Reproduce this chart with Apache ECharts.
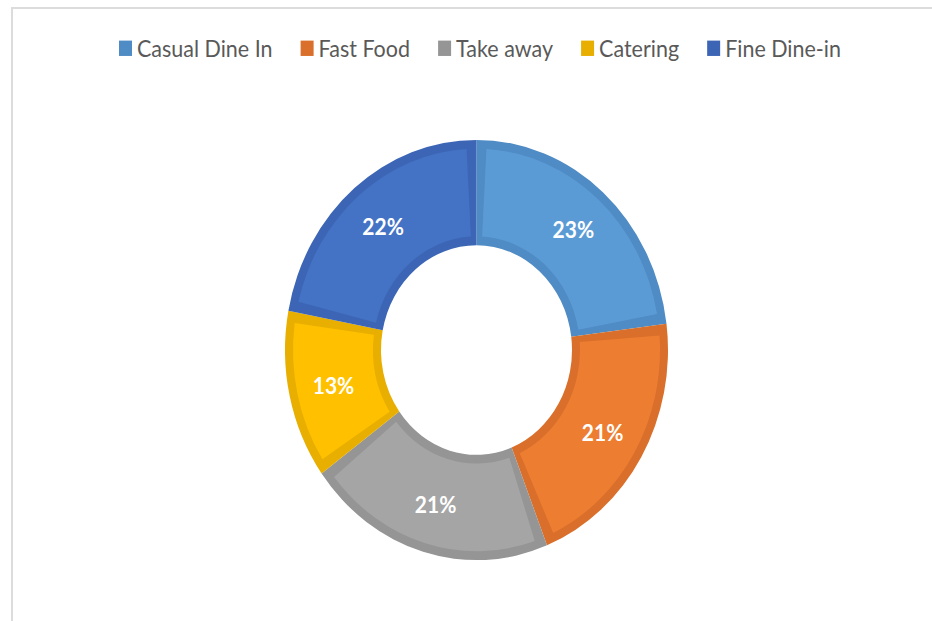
<!DOCTYPE html>
<html>
<head>
<meta charset="utf-8">
<title>Restaurant segments</title>
<script src="https://cdn.jsdelivr.net/npm/echarts@6/dist/echarts.min.js"></script>
<style>
  html, body { margin: 0; padding: 0; background: #ffffff; overflow: hidden; }
  #frame {
    position: absolute; left: 11px; top: 7px; width: 940px; height: 640px;
    border-left: 2px solid #dcdcdc; border-top: 2px solid #dcdcdc;
  }
  #chart {
    position: absolute; left: 0; top: 0; width: 932px; height: 566px;
    transform: scaleY(1.0972); transform-origin: 0 0;
  }
</style>
</head>
<body>
<div id="frame"></div>
<div id="chart"></div>
<script>
// Share of each restaurant segment, in percent
const categories = ['Casual Dine In', 'Fast Food', 'Take away', 'Catering', 'Fine Dine-in'];
const shares = [23, 21, 21, 13, 22];

// Slice fill colours and their darker edge colours
const fillColors = ['#5b9bd5', '#ed7d31', '#a5a5a5', '#ffc000', '#4472c4'];
const edgeColors = ['#4f8bc4', '#d96f2a', '#959595', '#e8ae00', '#3c66b5'];

const cx = 476.5, cy = 319;
const rInner = 95.5, rOuter = 191.5, edge = 8;

const chart = echarts.init(document.getElementById('chart'), null, { renderer: 'svg' });

const edgeData = categories.map((name, i) => ({
  name, value: shares[i], itemStyle: { color: edgeColors[i] }
}));
const fillData = categories.map((name, i) => ({
  name, value: shares[i], itemStyle: { color: fillColors[i] }
}));

chart.setOption({
  animation: false,
  backgroundColor: 'transparent',
  legend: {
    data: categories.map((name, i) => ({ name, itemStyle: { color: edgeColors[i] } })),
    left: 119,
    top: 33,
    padding: 0,
    itemWidth: 13,
    itemHeight: 14,
    itemGap: 28,
    icon: 'rect',
    selectedMode: false,
    textStyle: { fontFamily: 'Lato', fontSize: 21.5, lineHeight: 22, color: '#595959' }
  },
  series: [
    {
      type: 'pie',
      name: 'edge',
      center: [cx, cy],
      radius: [rInner, rOuter],
      startAngle: 90,
      clockwise: true,
      avoidLabelOverlap: false,
      silent: true,
      label: { show: false },
      labelLine: { show: false },
      emphasis: { disabled: true },
      data: edgeData
    },
    {
      type: 'pie',
      name: 'fill',
      center: [cx, cy],
      radius: [rInner + edge, rOuter - edge],
      startAngle: 90,
      clockwise: true,
      padAngle: 6.2,
      avoidLabelOverlap: false,
      silent: true,
      emphasis: { disabled: true },
      labelLine: { show: false },
      label: {
        show: true,
        position: 'inside',
        formatter: '{c}%',
        color: '#ffffff',
        fontFamily: 'Lato',
        fontWeight: 'bold',
        fontSize: 21
      },
      data: fillData
    }
  ]
});
</script>
</body>
</html>
